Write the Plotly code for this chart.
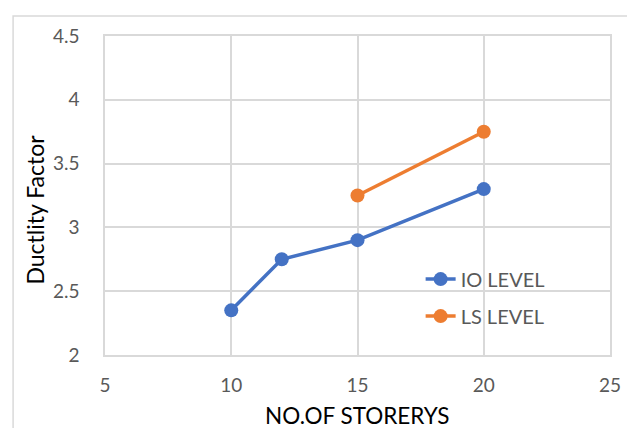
import plotly.graph_objects as go

io_x = [10, 12, 15, 20]
io_y = [2.35, 2.75, 2.9, 3.3]
ls_x = [15, 20]
ls_y = [3.25, 3.75]
x_ticks = [5, 10, 15, 20, 25]
y_ticks = [2, 2.5, 3, 3.5, 4, 4.5]
y_tick_text = ["2", "2.5", "3", "3.5", "4", "4.5"]

fig = go.Figure()
fig.add_trace(go.Scatter(x=io_x, y=io_y, mode="lines+markers", name="IO LEVEL",
                         legendgroup="io",
                         line=dict(color="#4472C4", width=3.5),
                         marker=dict(color="#4472C4", size=14)))
fig.add_trace(go.Scatter(x=ls_x, y=ls_y, mode="lines+markers", name="LS LEVEL",
                         legendgroup="ls",
                         line=dict(color="#ED7D31", width=3.5),
                         marker=dict(color="#ED7D31", size=14)))

font = "Lato, 'Noto Sans', sans-serif"
grid = "#d9d9d9"
fig.update_layout(
    width=627, height=428,
    margin=dict(l=105, r=17, t=36, b=73),
    paper_bgcolor="white", plot_bgcolor="white",
    font=dict(family=font, color="#595959", size=19),
    showlegend=True,
    legend=dict(x=0.625, y=0.18, xanchor="left", yanchor="middle",
                bgcolor="rgba(0,0,0,0)", font=dict(size=20, color="#595959"),
                traceorder="grouped", tracegroupgap=8),
    shapes=[dict(type="rect", xref="paper", yref="paper",
                 x0=-0.182, x1=1.3, y0=-0.5, y1=1.063,
                 line=dict(color=grid, width=1.5), layer="below")],
    annotations=[
        dict(text="NO.OF STORERYS", xref="paper", yref="paper", x=0.5, y=-0.19,
             xanchor="center", yanchor="middle", showarrow=False,
             font=dict(size=22.5, color="#000000", family=font)),
        dict(text="Ductlity Factor", xref="paper", yref="paper", x=-0.138, y=0.457,
             xanchor="center", yanchor="middle", showarrow=False, textangle=-90,
             font=dict(size=23, color="#000000", family=font)),
    ],
)
fig.update_xaxes(range=[5, 25], tickvals=x_ticks, showgrid=True, gridcolor=grid,
                 gridwidth=1.5, zeroline=False, showline=True, linecolor=grid,
                 linewidth=1.5, mirror=True, ticks="", automargin=False,
                 ticklabelstandoff=12, ticklabeloverflow="allow",
                 tickfont=dict(size=19, color="#595959"))
fig.update_yaxes(range=[2, 4.5], tickvals=y_ticks, ticktext=y_tick_text, showgrid=True,
                 gridcolor=grid, gridwidth=1.5, zeroline=False, showline=True,
                 linecolor=grid, linewidth=1.5, mirror=True, ticks="", automargin=False,
                 ticklabelstandoff=20,
                 tickfont=dict(size=19, color="#595959"))

fig.write_html("out.html", config={"displayModeBar": False},
               post_script="document.body.style.margin='0';document.body.style.overflow='hidden';")
